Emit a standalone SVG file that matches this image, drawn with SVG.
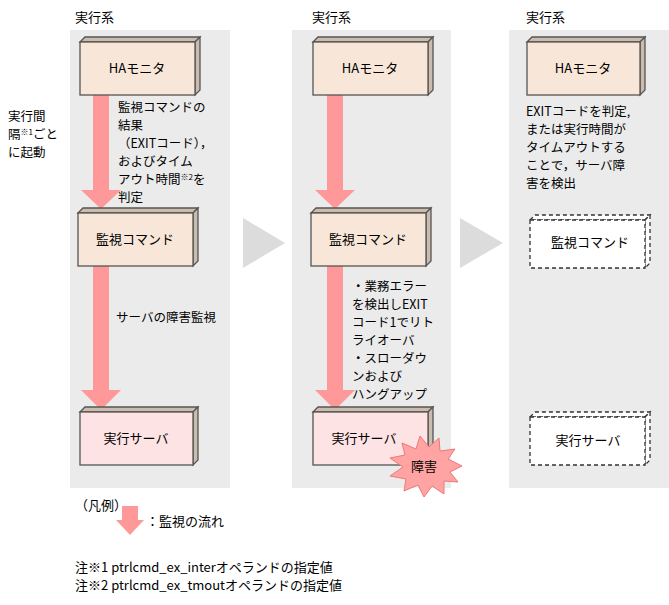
<svg xmlns="http://www.w3.org/2000/svg" width="669" height="605" viewBox="0 0 669 605">
<style>
text{font-family:"Noto Sans CJK JP","Noto Sans",sans-serif;font-size:13px;fill:#000}
.p{font-size:12.5px}
.pan{fill:#ebebeb}
.bg{fill:#f8e7d8;stroke:#555;stroke-width:1.3}
.pk{fill:#fde3e3;stroke:#555;stroke-width:1.3}
.wd{fill:#fff;stroke:#333;stroke-width:1.3;stroke-dasharray:4 3}
.sd{fill:#cbbcae;stroke:#555;stroke-width:1.3}
.sdw{fill:#fff;stroke:#333;stroke-width:1.3;stroke-dasharray:4 3}
.arr{fill:#f99}
.chev{fill:#dcdcdc}
.c{text-anchor:middle}
</style>
<rect class="pan" x="70" y="30" width="160" height="458"/>
<rect class="pan" x="292" y="30" width="159" height="458"/>
<rect class="pan" x="509" y="30" width="160" height="458"/>
<text x="75" y="22">実行系</text>
<text x="312" y="22">実行系</text>
<text x="526" y="22">実行系</text>
<polygon class="chev" points="243,218 285,243 243,268"/>
<polygon class="chev" points="460,218 503,243 460,268"/>
<g id="connectors">
<polygon class="arr" points="93,95 109,95 109,190 121,190 101,209 81,190 93,190"/>
<polygon class="arr" points="93,266 109,266 109,390 121,390 101,410 81,390 93,390"/>
<polygon class="arr" points="327,95 343,95 343,190 355,190 335,209 315,190 327,190"/>
<polygon class="arr" points="327,266 343,266 343,390 355,390 335,410 315,390 327,390"/>
</g>
<g id="ha1"><polygon class="sd" points="80,42 85,37 200,37 195,42"/><polygon class="sd" points="195,42 200,37 200,90 195,95"/><rect class="bg" x="80" y="42" width="115" height="53"/><text class="c" x="137" y="73">HAモニタ</text></g>
<g id="cmd1"><polygon class="sd" points="78,213 83,208 198,208 193,213"/><polygon class="sd" points="193,213 198,208 198,261 193,266"/><rect class="bg" x="78" y="213" width="115" height="53"/><text class="c" x="135" y="244">監視コマンド</text></g>
<g id="srv1"><polygon class="sd" points="80,412 85,407 198,407 193,412"/><polygon class="sd" points="193,412 198,407 198,460 193,465"/><rect class="pk" x="80" y="412" width="113" height="53"/><text class="c" x="136" y="443">実行サーバ</text></g>
<g id="ha2"><polygon class="sd" points="313,42 318,37 433,37 428,42"/><polygon class="sd" points="428,42 433,37 433,90 428,95"/><rect class="bg" x="313" y="42" width="115" height="53"/><text class="c" x="370" y="73">HAモニタ</text></g>
<g id="cmd2"><polygon class="sd" points="311,213 316,208 431,208 426,213"/><polygon class="sd" points="426,213 431,208 431,261 426,266"/><rect class="bg" x="311" y="213" width="115" height="53"/><text class="c" x="368" y="244">監視コマンド</text></g>
<g id="srv2"><polygon class="sd" points="313,412 318,407 433,407 428,412"/><polygon class="sd" points="428,412 433,407 433,460 428,465"/><rect class="pk" x="313" y="412" width="115" height="53"/><text class="c" x="364" y="443">実行サーバ</text></g>
<g id="fault"><polygon fill="#ffa3a3" stroke="#e77" stroke-width="1" points="462,466 450,472 458,482 444,481 444,494 432,486 424,497 418,485 404,491 406,479 390,476 403,467 390,458 405,455 402,443 416,449 420,436 429,447 439,438 440,451 455,449 448,459"/><text class="c" x="424" y="471">障害</text></g>
<g id="ha3"><polygon class="sd" points="527,42 532,37 645,37 640,42"/><polygon class="sd" points="640,42 645,37 645,90 640,95"/><rect class="bg" x="527" y="42" width="113" height="53"/><text class="c" x="583" y="73">HAモニタ</text></g>
<g id="cmd3"><polygon class="sdw" points="530,220 535,215 650,215 645,220"/><polygon class="sdw" points="645,220 650,215 650,263 645,268"/><rect class="wd" x="530" y="220" width="115" height="48"/><text class="c" x="590" y="247">監視コマンド</text></g>
<g id="srv3"><polygon class="sdw" points="530,417 535,412 650,412 645,417"/><polygon class="sdw" points="645,417 650,412 650,460 645,465"/><rect class="wd" x="530" y="417" width="115" height="48"/><text class="c" x="588" y="445">実行サーバ</text></g>
<g class="p">
<text class="p" x="8" y="121">実行間</text>
<text class="p" x="8" y="139">隔<tspan font-size="8" dy="-4">※1</tspan><tspan dy="4">ごと</tspan></text>
<text class="p" x="8" y="157">に起動</text>
<text class="p" x="118" y="112">監視コマンドの</text>
<text class="p" x="118" y="130">結果</text>
<text class="p" x="118" y="148">（EXITコード），</text>
<text class="p" x="118" y="166">およびタイム</text>
<text class="p" x="118" y="184">アウト時間<tspan font-size="8" dy="-4">※2</tspan><tspan dy="4">を</tspan></text>
<text class="p" x="118" y="202">判定</text>
<text class="p" x="116" y="322">サーバの障害監視</text>
<text class="p" x="352" y="291">・業務エラー</text>
<text class="p" x="352" y="309">を検出しEXIT</text>
<text class="p" x="352" y="327">コード1でリト</text>
<text class="p" x="352" y="345">ライオーバ</text>
<text class="p" x="352" y="363">・スローダウ</text>
<text class="p" x="352" y="381">ンおよび</text>
<text class="p" x="352" y="399">ハングアップ</text>
<text class="p" x="526" y="116">EXITコードを判定,</text>
<text class="p" x="526" y="134">または実行時間が</text>
<text class="p" x="526" y="152">タイムアウトする</text>
<text class="p" x="526" y="170">ことで，サーバ障</text>
<text class="p" x="526" y="188">害を検出</text>
</g>
<g id="legend"><text x="75" y="510">（凡例）</text><polygon class="arr" points="122,506 138,506 138,520 144,520 130,535 116,520 122,520"/><text x="146" y="526">：監視の流れ</text></g>
<text x="75" y="572">注※1 ptrlcmd_ex_interオペランドの指定値</text>
<text x="75" y="590">注※2 ptrlcmd_ex_tmoutオペランドの指定値</text>
</svg>
